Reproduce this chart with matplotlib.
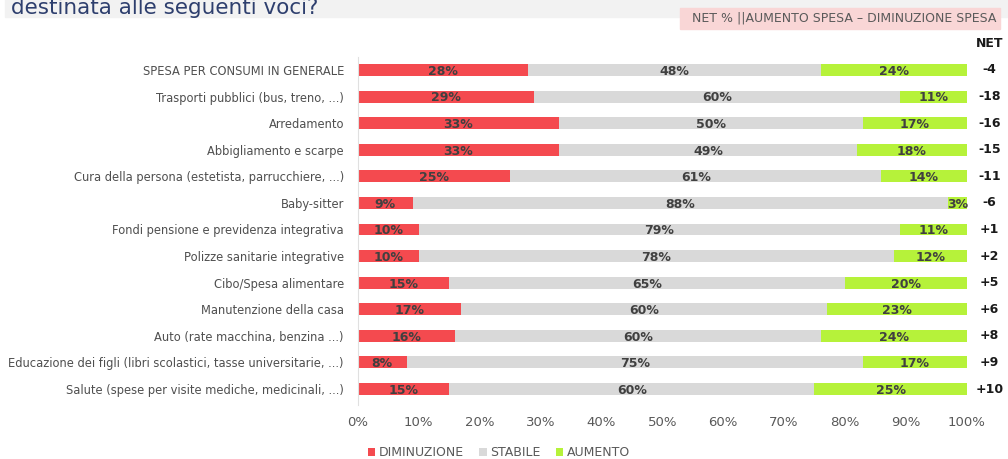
import matplotlib.pyplot as plt
import matplotlib.patches as mpatches
import numpy as np

categories = [
    "SPESA PER CONSUMI IN GENERALE",
    "Trasporti pubblici (bus, treno, ...)",
    "Arredamento",
    "Abbigliamento e scarpe",
    "Cura della persona (estetista, parrucchiere, ...)",
    "Baby-sitter",
    "Fondi pensione e previdenza integrativa",
    "Polizze sanitarie integrative",
    "Cibo/Spesa alimentare",
    "Manutenzione della casa",
    "Auto (rate macchina, benzina ...)",
    "Educazione dei figli (libri scolastici, tasse universitarie, ...)",
    "Salute (spese per visite mediche, medicinali, ...)",
]
diminuzione = [28, 29, 33, 33, 25, 9, 10, 10, 15, 17, 16, 8, 15]
stabile = [48, 60, 50, 49, 61, 88, 79, 78, 65, 60, 60, 75, 60]
aumento = [24, 11, 17, 18, 14, 3, 11, 12, 20, 23, 24, 17, 25]
net = ["-4", "-18", "-16", "-15", "-11", "-6", "+1", "+2", "+5", "+6", "+8", "+9", "+10"]

RED = "#F44A4F"
GREY = "#D9D9D9"
LIME = "#B6F23A"

plt.rcParams['font.family'] = ['DejaVu Sans']

fig = plt.figure(figsize=(10.08, 4.59), dpi=100)
ax = fig.add_axes([0.355, 0.1235, 0.604, 0.753])

y = np.arange(len(categories))
d = np.array(diminuzione)
s = np.array(stabile)
a = np.array(aumento)
h = 0.45
ax.barh(y, d, height=h, color=RED, label="DIMINUZIONE")
ax.barh(y, s, left=d, height=h, color=GREY, label="STABILE")
ax.barh(y, a, left=d + s, height=h, color=LIME, label="AUMENTO")

lab = dict(ha="center", va="center", fontsize=9, fontweight="bold", color="#404040")
for i in range(len(categories)):
    ax.text(d[i] / 2, y[i] + 0.05, f"{d[i]}%", **lab)
    ax.text(d[i] + s[i] / 2, y[i] + 0.05, f"{s[i]}%", **lab)
    ax.text(d[i] + s[i] + a[i] / 2, y[i] + 0.05, f"{a[i]}%", **lab)
    ax.text(103.7, y[i], net[i], ha="center", va="center", fontsize=9,
            fontweight="bold", color="#1a1a1a")
ax.text(103.7, -1.0, "NET", ha="center", va="center", fontsize=9,
        fontweight="bold", color="#1a1a1a")

ax.set_xlim(0, 100)
ax.set_ylim(len(categories) - 0.5, -0.5)
ax.set_xticks(np.arange(0, 101, 10))
ax.set_xticklabels([f"{v}%" for v in range(0, 101, 10)])
ax.set_yticks(y)
ax.set_yticklabels(categories)
ax.tick_params(axis="x", length=0, pad=10, labelsize=9.5, labelcolor="#595959")
ax.tick_params(axis="y", length=0, pad=10, labelsize=8.3, labelcolor="#4F4F4F")
for sp in ["top", "right", "bottom"]:
    ax.spines[sp].set_visible(False)
ax.spines["left"].set_color("#E0E0E0")
ax.spines["left"].set_bounds(len(categories) - 0.5 + 0.1, -0.5)

fig.legend(loc="center", bbox_to_anchor=(0.495, 0.014), ncol=3, frameon=False,
           fontsize=9, handlelength=0.6, handleheight=0.6, handletextpad=0.3,
           columnspacing=1.2, labelcolor="#595959")

# header strip and note box
fig.patches.append(mpatches.Rectangle((0.005, 0.963), 0.995, 0.04, transform=fig.transFigure,
                                      color="#F2F2F2", zorder=0))
fig.text(0.011, 1 - 14 / 459, "destinata alle seguenti voci?", fontsize=15.5,
         color="#2E3F6E", va="baseline")
fig.patches.append(mpatches.Rectangle((680 / 1008, 1 - 29 / 459), 320 / 1008, 21 / 459,
                                      transform=fig.transFigure, color="#F9D6D6", zorder=0))
fig.text(844 / 1008, 1 - 18.5 / 459, "NET % ||AUMENTO SPESA – DIMINUZIONE SPESA",
         ha="center", va="center", fontsize=9, color="#5A5A5A")

fig.savefig("out.png", dpi=100)
